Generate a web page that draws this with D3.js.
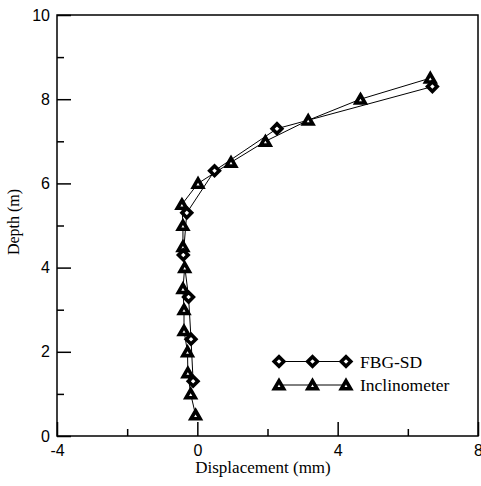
<!DOCTYPE html>
<html><head><meta charset="utf-8">
<script src="https://cdn.jsdelivr.net/npm/d3@7"></script>
<style>body{margin:0;background:#fff}</style>
</head><body>
<script>
// Data
const fbgDepth = [1.3, 2.3, 3.3, 4.3, 5.3, 6.3, 7.3, 8.3];
const fbgDisp  = [-0.12, -0.18, -0.25, -0.40, -0.30, 0.49, 2.27, 6.70];
const incDepth = [0.5, 1.0, 1.5, 2.0, 2.5, 3.0, 3.5, 4.0, 4.5, 5.0, 5.5, 6.0, 6.5, 7.0, 7.5, 8.0, 8.5];
const incDisp  = [-0.05, -0.19, -0.27, -0.28, -0.38, -0.38, -0.41, -0.36, -0.41, -0.41, -0.44, 0.02, 0.96, 1.94, 3.16, 4.65, 6.64];
const xMajor = [-4, 0, 4, 8];
const xMinor = [-2, 2, 6];
const yMajor = [0, 2, 4, 6, 8, 10];
const yMinor = [1, 3, 5, 7, 9];
const seriesNames = ["FBG-SD", "Inclinometer"];

const W = 481, H = 486;
const L = 57, T = 15, R = 478, B = 436;
const svg = d3.select("body").append("svg").attr("width", W).attr("height", H);
const x = d3.scaleLinear().domain([-4, 8]).range([L, R]);
const y = d3.scaleLinear().domain([0, 10]).range([B, T]);
const sans = "'Liberation Sans', Arial, sans-serif";
const serif = "'Liberation Serif', 'Times New Roman', serif";
const fmt = d => String(d);

// frame
svg.append("rect").attr("x", L).attr("y", T).attr("width", R - L).attr("height", B - T)
  .attr("fill", "none").attr("stroke", "#000").attr("stroke-width", 1.5);

// axes
svg.append("g").attr("transform", `translate(0,${B})`)
  .call(d3.axisBottom(x).tickValues(xMajor).tickSize(-14).tickSizeOuter(0).tickPadding(9).tickFormat(fmt));
svg.append("g").attr("transform", `translate(0,${B})`)
  .call(d3.axisBottom(x).tickValues(xMinor).tickSize(-7).tickSizeOuter(0).tickFormat(""));
svg.append("g").attr("transform", `translate(${L},0)`)
  .call(d3.axisLeft(y).tickValues(yMajor).tickSize(-14).tickSizeOuter(0).tickPadding(7).tickFormat(fmt));
svg.append("g").attr("transform", `translate(${L},0)`)
  .call(d3.axisLeft(y).tickValues(yMinor).tickSize(-7).tickSizeOuter(0).tickFormat(""));
svg.selectAll(".domain").remove();
svg.selectAll(".tick line").attr("stroke", "#000").attr("stroke-width", 1.5);
svg.selectAll(".tick text").attr("font-family", sans).attr("font-size", 16).attr("fill", "#000");

// axis titles
svg.append("text").attr("x", 263).attr("y", 473).attr("text-anchor", "middle")
  .attr("font-family", serif).attr("font-size", 17).text("Displacement (mm)");
svg.append("text").attr("transform", "translate(19,222) rotate(-90)").attr("text-anchor", "middle")
  .attr("font-family", serif).attr("font-size", 16).text("Depth (m)");

// markers
const diamond = "M0,-4.8L4.8,0L0,4.8L-4.8,0Z";
const tri = "M0,-4.2L4.6,3.8L-4.6,3.8Z";
function marker(g, px, py, kind) {
  g.append("path").attr("d", kind === 0 ? diamond : tri)
    .attr("transform", `translate(${px},${py})`)
    .attr("fill", "#fff").attr("stroke", "#000").attr("stroke-width", 3.6).attr("stroke-linejoin", "miter");
}
const line = d3.line().x(d => x(d[0])).y(d => y(d[1]));
const fbg = fbgDepth.map((d, i) => [fbgDisp[i], d]);
const inc = incDepth.map((d, i) => [incDisp[i], d]);
svg.append("path").datum(fbg).attr("d", line).attr("fill", "none").attr("stroke", "#000").attr("stroke-width", 1);
svg.append("path").datum(inc).attr("d", line).attr("fill", "none").attr("stroke", "#000").attr("stroke-width", 1);
const gm = svg.append("g");
inc.forEach(p => marker(gm, x(p[0]), y(p[1]), 1));
fbg.forEach(p => marker(gm, x(p[0]), y(p[1]), 0));

// legend
const lg = svg.append("g");
[[361.5, 0], [385, 1]].forEach(([ly, k]) => {
  lg.append("line").attr("x1", 279).attr("x2", 346).attr("y1", ly).attr("y2", ly).attr("stroke", "#000").attr("stroke-width", 1);
  [279, 312.5, 346].forEach(lx => marker(lg, lx, ly, k));
  lg.append("text").attr("x", 360).attr("y", ly + 6).attr("font-family", serif).attr("font-size", 17.5).text(seriesNames[k]);
});
</script>
</body></html>
